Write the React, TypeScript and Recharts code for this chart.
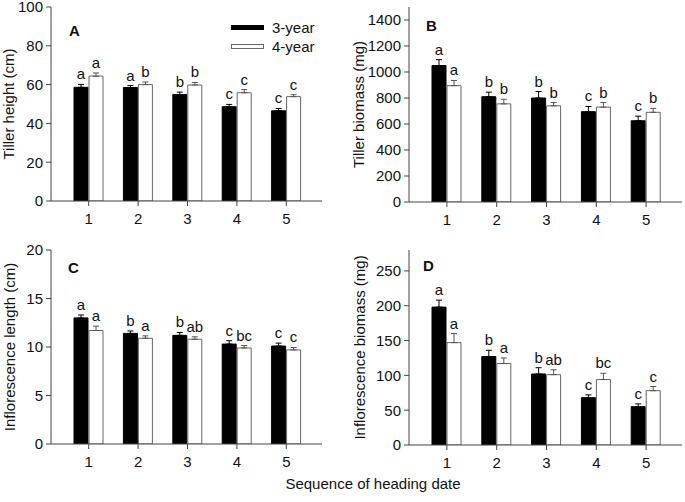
import React from 'react';
import { BarChart, Bar, XAxis, YAxis, ErrorBar, LabelList, Legend } from 'recharts';

const FONT = '"Liberation Sans", Arial, Helvetica, sans-serif';

const categories = ['1', '2', '3', '4', '5'];
const seriesNames = ['3-year', '4-year'];

// Panel A: Tiller height (cm)
const heightY3 = [58.6, 58.5, 54.9, 48.6, 46.5];
const heightY3Err = [1.5, 1.0, 1.2, 1.2, 1.2];
const heightY3Letters = ['a', 'a', 'b', 'c', 'c'];
const heightY4 = [64.4, 60.0, 59.8, 55.8, 53.8];
const heightY4Err = [1.6, 1.3, 1.3, 1.6, 1.0];
const heightY4Letters = ['a', 'b', 'b', 'c', 'c'];
const heightTicks = [0, 20, 40, 60, 80, 100];

// Panel B: Tiller biomass (mg)
const tbY3 = [1050, 810, 800, 695, 625];
const tbY3Err = [45, 35, 50, 40, 35];
const tbY3Letters = ['a', 'b', 'b', 'c', 'c'];
const tbY4 = [895, 755, 740, 730, 690];
const tbY4Err = [40, 35, 25, 35, 30];
const tbY4Letters = ['a', 'b', 'b', 'b', 'b'];
const tbTicks = [0, 200, 400, 600, 800, 1000, 1200, 1400];

// Panel C: Inflorescence length (cm)
const ilY3 = [13.0, 11.4, 11.2, 10.3, 10.1];
const ilY3Err = [0.3, 0.25, 0.3, 0.35, 0.3];
const ilY3Letters = ['a', 'b', 'b', 'c', 'c'];
const ilY4 = [11.7, 10.9, 10.8, 9.9, 9.7];
const ilY4Err = [0.45, 0.25, 0.25, 0.25, 0.25];
const ilY4Letters = ['a', 'a', 'ab', 'bc', 'c'];
const ilTicks = [0, 5, 10, 15, 20];

// Panel D: Inflorescence biomass (mg)
const ibY3 = [198, 127, 102, 68, 55];
const ibY3Err = [10, 9, 9, 4, 4];
const ibY3Letters = ['a', 'b', 'b', 'c', 'c'];
const ibY4 = [147, 117, 101, 94, 78];
const ibY4Err = [13, 8, 7, 9, 6];
const ibY4Letters = ['a', 'a', 'ab', 'bc', 'c'];
const ibTicks = [0, 50, 100, 150, 200, 250];

function buildRows(v3: number[], e3: number[], l3: string[], v4: number[], e4: number[], l4: string[]) {
  return categories.map((c, i) => ({
    cat: c,
    y3: v3[i],
    e3: [0, e3[i]],
    l3: l3[i],
    y4: v4[i],
    e4: [0, e4[i]],
    l4: l4[i],
  }));
}

const makeLetter = (vals: number[], errs: number[]) => (props: any) => {
  const vb = props.viewBox || {};
  const x = Number(props.x ?? vb.x);
  const y = Number(props.y ?? vb.y);
  const width = Number(props.width ?? vb.width);
  const height = Math.abs(Number(props.height ?? vb.height));
  const idx = props.index;
  if (idx == null || isNaN(x)) return null;
  const v = vals[idx];
  const pxPer = v ? height / v : 0;
  const top = y - errs[idx] * pxPer;
  return (
    <text x={x + width / 2} y={top - 5} textAnchor="middle" fontSize={15} fill="#111" fontFamily={FONT}>
      {props.value}
    </text>
  );
};

const renderLegend = (props: any) => {
  const payload = props.payload || [];
  return (
    <div style={{ fontFamily: FONT, fontSize: 15, color: '#111' }}>
      {payload.map((entry: any, i: number) => {
        const p = entry.payload || {};
        return (
          <div key={i} style={{ display: 'flex', alignItems: 'center', height: 19 }}>
            <svg width={34} height={6} style={{ display: 'block' }}>
              <rect x={0.5} y={0.5} width={32} height={4} fill={p.fill || entry.color} stroke={p.stroke || '#000'} />
            </svg>
            <span style={{ marginLeft: 7, lineHeight: '19px' }}>{entry.value}</span>
          </div>
        );
      })}
    </div>
  );
};

type PanelProps = {
  left: number;
  top: number;
  w: number;
  h: number;
  mTop: number;
  yWidth: number;
  mRight: number;
  xHeight: number;
  domain: [number, number];
  ticks: number[];
  yLabel: string;
  labelOffset: number;
  v3: number[];
  e3: number[];
  l3: string[];
  v4: number[];
  e4: number[];
  l4: string[];
  legend?: boolean;
};

const AX = '#444';

function Panel(p: PanelProps) {
  const rows = buildRows(p.v3, p.e3, p.l3, p.v4, p.e4, p.l4);
  return (
    <div style={{ position: 'absolute', left: p.left, top: p.top, width: p.w, height: p.h }}>
      <BarChart
        width={p.w}
        height={p.h}
        data={rows}
        margin={{ top: p.mTop, right: p.mRight, bottom: 0, left: 0 }}
        barSize={14}
        barGap={1}
        style={{ fontFamily: FONT, overflow: 'visible' }}
      >
        <XAxis
          dataKey="cat"
          height={p.xHeight}
          padding={{ left: 13, right: 11 }}
          interval={0}
          tickSize={5}
          tickMargin={7}
          axisLine={{ stroke: AX }}
          tickLine={{ stroke: AX }}
          tick={{ fill: '#111', fontSize: 15, fontFamily: FONT }}
        />
        <XAxis xAxisId="top" orientation="top" dataKey="cat" height={0} tick={false} tickLine={false} axisLine={{ stroke: AX }} />
        <YAxis
          domain={p.domain}
          ticks={p.ticks}
          allowDataOverflow
          width={p.yWidth}
          tickSize={5}
          tickMargin={3}
          interval={0}
          axisLine={{ stroke: AX }}
          tickLine={{ stroke: AX }}
          tick={{ fill: '#111', fontSize: 15, fontFamily: FONT }}
          label={{
            value: p.yLabel,
            angle: -90,
            position: 'insideLeft',
            offset: p.labelOffset,
            style: { textAnchor: 'middle', fontSize: 15, fill: '#111', fontFamily: FONT },
          }}
        />
        <YAxis yAxisId="right" orientation="right" width={0} domain={p.domain} allowDataOverflow tick={false} tickLine={false} axisLine={{ stroke: AX }} />
        {p.legend && (
          <Legend
            layout="horizontal"
            verticalAlign="middle"
            align="center"
            content={renderLegend}
            wrapperStyle={{ position: 'absolute', left: 231, top: 18, width: 100, height: 40 }}
          />
        )}
        <Bar dataKey="y3" name={seriesNames[0]} fill="#000" stroke="#000" isAnimationActive={false}>
          <ErrorBar dataKey="e3" width={3} stroke="#000" strokeWidth={1} direction="y" />
          <LabelList dataKey="l3" content={makeLetter(p.v3, p.e3)} />
        </Bar>
        <Bar dataKey="y4" name={seriesNames[1]} fill="#fff" stroke="#666" isAnimationActive={false}>
          <ErrorBar dataKey="e4" width={3} stroke="#555" strokeWidth={1} direction="y" />
          <LabelList dataKey="l4" content={makeLetter(p.v4, p.e4)} />
        </Bar>
      </BarChart>
    </div>
  );
}

export default function App() {
  return (
    <div style={{ position: 'absolute', left: 0, top: 0, width: 685, height: 502, background: '#fff', fontFamily: FONT }}>
      <Panel left={0} top={0} w={340} h={240} mTop={7} yWidth={51} mRight={18} xHeight={39}
        domain={[0, 100]} ticks={heightTicks} yLabel="Tiller height (cm)" labelOffset={9}
        v3={heightY3} e3={heightY3Err} l3={heightY3Letters} v4={heightY4} e4={heightY4Err} l4={heightY4Letters} legend />
      <Panel left={340} top={0} w={345} h={240} mTop={7} yWidth={69} mRight={3} xHeight={38}
        domain={[0, 1500]} ticks={tbTicks} yLabel="Tiller biomass (mg)" labelOffset={19}
        v3={tbY3} e3={tbY3Err} l3={tbY3Letters} v4={tbY4} e4={tbY4Err} l4={tbY4Letters} />
      <Panel left={0} top={240} w={340} h={240} mTop={10} yWidth={51} mRight={18} xHeight={36}
        domain={[0, 20]} ticks={ilTicks} yLabel="Inflorescence length (cm)" labelOffset={10}
        v3={ilY3} e3={ilY3Err} l3={ilY3Letters} v4={ilY4} e4={ilY4Err} l4={ilY4Letters} />
      <Panel left={340} top={240} w={345} h={240} mTop={10} yWidth={69} mRight={3} xHeight={35}
        domain={[0, 280]} ticks={ibTicks} yLabel="Inflorescence biomass (mg)" labelOffset={20}
        v3={ibY3} e3={ibY3Err} l3={ibY3Letters} v4={ibY4} e4={ibY4Err} l4={ibY4Letters} />
      <svg width={685} height={502} style={{ position: 'absolute', left: 0, top: 0, pointerEvents: 'none' }}>
        <g fontFamily={FONT} fontSize={15} fontWeight="bold" fill="#111">
          <text x={69} y={36}>A</text>
          <text x={426} y={31}>B</text>
          <text x={68} y={273}>C</text>
          <text x={423} y={271}>D</text>
        </g>
        <text x={373} y={489} textAnchor="middle" fontFamily={FONT} fontSize={15} fill="#111">
          Sequence of heading date
        </text>
      </svg>
    </div>
  );
}
